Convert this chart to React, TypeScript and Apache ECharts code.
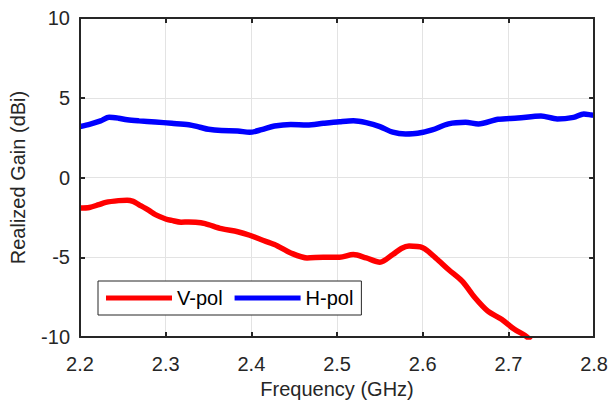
import React, { useEffect, useRef } from "react";
import * as echarts from "echarts";

const xTicks = [2.2, 2.3, 2.4, 2.5, 2.6, 2.7, 2.8];
const yTicks = [-10, -5, 0, 5, 10];

const hFreq = [2.200, 2.212, 2.224, 2.234, 2.245, 2.255, 2.269, 2.288, 2.307, 2.327, 2.340, 2.350, 2.365, 2.384, 2.398, 2.412, 2.427, 2.446, 2.465, 2.484, 2.503, 2.519, 2.534, 2.550, 2.565, 2.580, 2.594, 2.611, 2.630, 2.650, 2.665, 2.688, 2.711, 2.738, 2.757, 2.776, 2.788, 2.797, 2.800];
const hGain = [3.2, 3.35, 3.55, 3.78, 3.72, 3.62, 3.55, 3.48, 3.40, 3.31, 3.15, 3.02, 2.94, 2.92, 2.83, 3.0, 3.23, 3.33, 3.29, 3.40, 3.50, 3.56, 3.44, 3.19, 2.84, 2.73, 2.77, 2.98, 3.36, 3.46, 3.36, 3.65, 3.73, 3.86, 3.67, 3.77, 3.98, 3.92, 3.9];

const vFreq = [2.200, 2.211, 2.222, 2.230, 2.245, 2.255, 2.262, 2.269, 2.280, 2.288, 2.300, 2.307, 2.318, 2.327, 2.335, 2.346, 2.365, 2.384, 2.398, 2.411, 2.427, 2.446, 2.465, 2.484, 2.503, 2.519, 2.534, 2.550, 2.565, 2.575, 2.584, 2.600, 2.615, 2.630, 2.646, 2.661, 2.676, 2.692, 2.707, 2.719, 2.726];
const vGain = [-1.91, -1.88, -1.7, -1.56, -1.45, -1.42, -1.5, -1.71, -2.05, -2.33, -2.6, -2.69, -2.8, -2.79, -2.8, -2.89, -3.21, -3.4, -3.62, -3.89, -4.2, -4.73, -5.04, -5.0, -5.0, -4.83, -5.04, -5.31, -4.83, -4.45, -4.3, -4.41, -5.04, -5.77, -6.5, -7.54, -8.38, -8.89, -9.52, -9.89, -10.2];

const FONT = "'Liberation Sans', Arial, sans-serif";
const TXT = "#262626";
const FS = 20;

const xRange = { type: "value", min: xTicks[0], max: xTicks[xTicks.length - 1], interval: 0.1 };
const yRange = { type: "value", min: yTicks[0], max: yTicks[yTicks.length - 1], interval: 5 };

function frameAxis(position: string) {
  return {
    position,
    z: 5,
    axisLine: { show: true, onZero: false, lineStyle: { color: TXT, width: 2 } },
    axisTick: { show: true, inside: true, length: 5, lineStyle: { color: TXT, width: 2 } },
    axisLabel: { show: false },
    splitLine: { show: false },
  };
}
function gridAxis(position: string) {
  return {
    position,
    z: 0,
    axisLine: { show: false, onZero: false },
    axisTick: { show: false },
    axisLabel: { show: false },
    splitLine: { show: true, showMinLine: false, showMaxLine: false, lineStyle: { color: "#e3e3e3", width: 1 } },
  };
}

export default function App() {
  const ref = useRef<HTMLDivElement>(null);
  useEffect(() => {
    if (!ref.current) return;
    const chart = echarts.init(ref.current, undefined, { renderer: "svg" });
    chart.setOption({
      animation: false,
      backgroundColor: "#ffffff",
      textStyle: { fontFamily: FONT },
      grid: { left: 77, top: 18, right: 15, bottom: 69 },
      legend: {
        left: 98,
        top: 281,
        z: 6,
        padding: [7, 8],
        itemWidth: 66,
        itemHeight: 5,
        itemGap: 12,
        icon: "rect",
        backgroundColor: "#ffffff",
        borderColor: "#262626",
        borderWidth: 1,
        borderRadius: 0,
        textStyle: { fontSize: FS, color: "#000000", fontFamily: FONT },
        data: ["V-pol", "H-pol"],
      },
      xAxis: [
        {
          ...xRange,
          ...frameAxis("bottom"),
          name: "Frequency (GHz)",
          nameLocation: "middle",
          nameGap: 37,
          nameTextStyle: { fontSize: FS, color: TXT, fontFamily: FONT },
          axisLabel: { show: true, fontSize: FS, color: TXT, margin: 17, fontFamily: FONT, formatter: (v: number) => v.toFixed(1) },
        },
        { ...xRange, ...frameAxis("top") },
        { ...xRange, ...gridAxis("bottom") },
      ],
      yAxis: [
        {
          ...yRange,
          ...frameAxis("left"),
          name: "Realized Gain (dBi)",
          nameLocation: "middle",
          nameGap: 52,
          nameTextStyle: { fontSize: FS, color: TXT, fontFamily: FONT },
          axisLabel: { show: true, fontSize: FS, color: TXT, margin: 10, fontFamily: FONT },
        },
        { ...yRange, ...frameAxis("right") },
        { ...yRange, ...gridAxis("left") },
      ],
      series: [
        {
          name: "V-pol",
          type: "line",
          data: vFreq.map((f, i) => [f, vGain[i]]),
          showSymbol: false,
          smooth: 0.3,
          clip: true,
          color: "#ff0000",
          lineStyle: { color: "#ff0000", width: 5.5 },
          z: 3,
        },
        {
          name: "H-pol",
          type: "line",
          data: hFreq.map((f, i) => [f, hGain[i]]),
          showSymbol: false,
          smooth: 0.3,
          clip: true,
          color: "#0000ff",
          lineStyle: { color: "#0000ff", width: 5.5 },
          z: 3,
        },
      ],
    });
    return () => chart.dispose();
  }, []);
  return <div ref={ref} style={{ width: 611, height: 406, position: "absolute", left: 0, top: 0 }} />;
}
